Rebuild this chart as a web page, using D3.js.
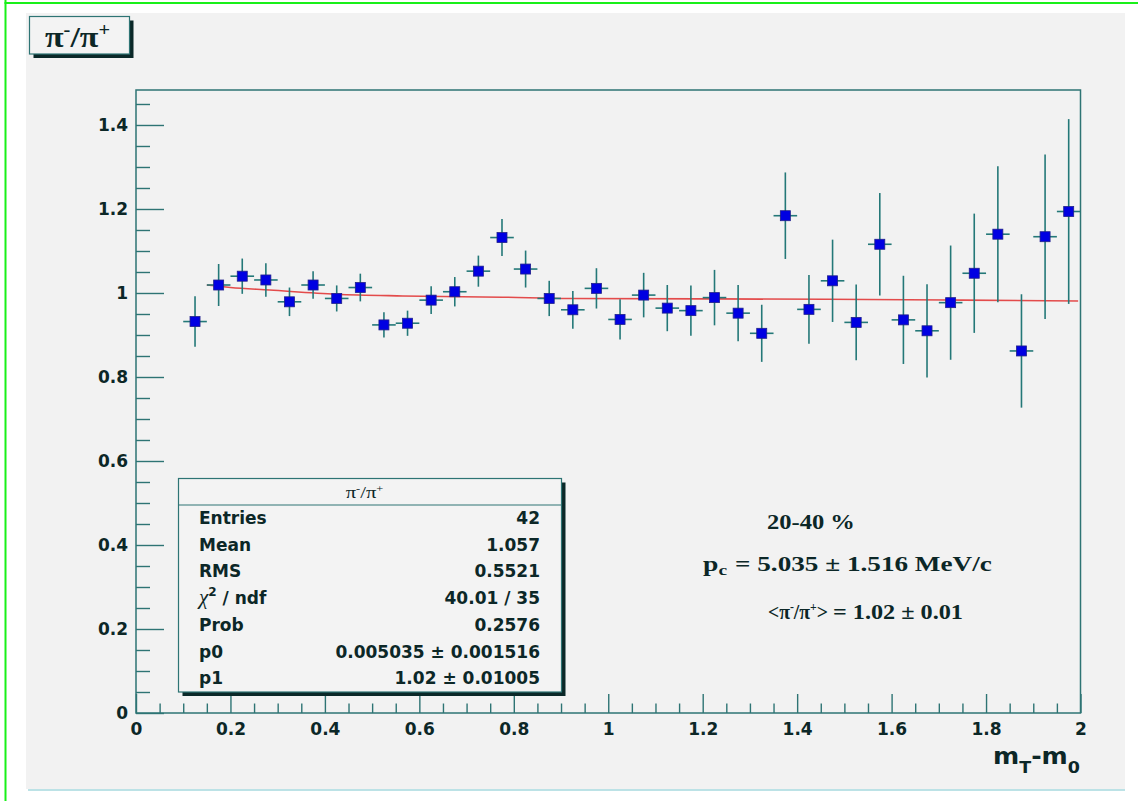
<!DOCTYPE html>
<html><head><meta charset="utf-8">
<script src="https://cdn.jsdelivr.net/npm/d3@7"></script>
<style>body{margin:0;background:#fff}svg{display:block}</style>
</head><body>
<svg id="c" width="1138" height="801"></svg>
<script>
// ---- data ----
const binCenters = [0.125,0.175,0.225,0.275,0.325,0.375,0.425,0.475,0.525,0.575,0.625,0.675,0.725,0.775,0.825,0.875,0.925,0.975,1.025,1.075,1.125,1.175,1.225,1.275,1.325,1.375,1.425,1.475,1.525,1.575,1.625,1.675,1.725,1.775,1.825,1.875,1.925,1.975];
const ratio = [0.932,1.019,1.040,1.031,0.979,1.019,0.987,1.013,0.924,0.928,0.983,1.003,1.052,1.132,1.057,0.987,0.960,1.011,0.937,0.995,0.964,0.958,0.989,0.952,0.904,1.184,0.961,1.029,0.930,1.116,0.936,0.910,0.977,1.047,1.140,0.862,1.134,1.194];
const ratioErr = [0.060,0.050,0.042,0.040,0.034,0.033,0.031,0.033,0.030,0.030,0.033,0.035,0.037,0.044,0.044,0.042,0.045,0.048,0.048,0.053,0.055,0.060,0.066,0.067,0.068,0.103,0.082,0.098,0.090,0.122,0.105,0.111,0.136,0.142,0.162,0.135,0.196,0.220];
const binHalfWidth = 0.025;
const fitX = [0.15,0.2,0.283,0.424,0.565,0.777,0.918,1.2,1.462,1.75,1.995];
const fitY = [1.019,1.013,1.007,0.997,0.993,0.990,0.987,0.986,0.985,0.983,0.981];
const xMajor = [0,0.2,0.4,0.6,0.8,1,1.2,1.4,1.6,1.8,2];
const xTickLabels = ["0","0.2","0.4","0.6","0.8","1","1.2","1.4","1.6","1.8","2"];
const yMajor = [0,0.2,0.4,0.6,0.8,1,1.2,1.4];
const yTickLabels = ["0","0.2","0.4","0.6","0.8","1","1.2","1.4"];
const statsLabels = ["Entries","Mean","RMS","CHI","Prob","p0","p1"];
const statsValues = ["42","1.057","0.5521","40.01 / 35","0.2576","0.005035 \u00b1 0.001516","1.02 \u00b1 0.01005"];
const centralityText = "20-40 %";
const pcText = "= 5.035 \u00b1 1.516 MeV/c";
const meanRatioText = "= 1.02 \u00b1 0.01";

// ---- styles ----
const lineCol = "#2e7474", textCol = "#0c2727", sans = "DejaVu Sans", serif = "Liberation Serif";
const svg = d3.select("#c");

// page background + borders
svg.append("rect").attr("x",26).attr("y",13).attr("width",1099).attr("height",776).attr("fill","#f2f2f2");
svg.append("rect").attr("x",4.5).attr("y",0).attr("width",2).attr("height",801).attr("fill","#19f019");
svg.append("rect").attr("x",4.5).attr("y",2).attr("width",1134).attr("height",2).attr("fill","#19f019");
svg.append("line").attr("x1",28).attr("x2",1125).attr("y1",790).attr("y2",790).attr("stroke","#a6d8de").attr("stroke-width",1.5);

// ---- scales ----
const x = d3.scaleLinear().domain([0,2]).range([136,1080.5]);
const y = d3.scaleLinear().domain([0,1.4833]).range([713,90]);

// minor tick positions
const xMinor = d3.range(0,2.0001,0.05).filter(v => Math.abs(v/0.2 - Math.round(v/0.2)) > 1e-6);
const yMinor = d3.range(0,1.4801,0.05).filter(v => Math.abs(v/0.2 - Math.round(v/0.2)) > 1e-6);

function styleAxis(g){
  g.select(".domain").remove();
  g.selectAll("line").attr("stroke",lineCol).attr("stroke-width",1.4);
  g.selectAll("text").attr("fill",textCol).attr("font-family",sans).attr("font-weight","bold").attr("font-size",17);
}
svg.append("g").attr("transform","translate(0,713)")
  .call(d3.axisBottom(x).tickValues(xMinor).tickSize(-9.5).tickFormat(""))
  .call(styleAxis);
svg.append("g").attr("transform","translate(0,713)")
  .call(d3.axisBottom(x).tickValues(xMajor).tickSize(-19).tickPadding(10).tickFormat((d,i)=>xTickLabels[i]))
  .call(styleAxis);
svg.append("g").attr("transform","translate(136,0)")
  .call(d3.axisLeft(y).tickValues(yMinor).tickSize(-14).tickFormat(""))
  .call(styleAxis);
svg.append("g").attr("transform","translate(136,0)")
  .call(d3.axisLeft(y).tickValues(yMajor).tickSize(-28).tickPadding(8).tickFormat((d,i)=>yTickLabels[i]))
  .call(styleAxis);

// frame
svg.append("rect").attr("x",x(0)).attr("y",y(1.4833)).attr("width",x(2)-x(0)).attr("height",y(0)-y(1.4833))
  .attr("fill","none").attr("stroke",lineCol).attr("stroke-width",1.5);

// ---- fit curve ----
svg.append("path").datum(fitX.map((v,i)=>[v,fitY[i]]))
  .attr("d", d3.line().x(d=>x(d[0])).y(d=>y(d[1])).curve(d3.curveMonotoneX))
  .attr("fill","none").attr("stroke","#e34b4b").attr("stroke-width",1.6);

// ---- error bars + markers ----
const pts = binCenters.map((c,i)=>({c, v:ratio[i], e:ratioErr[i]}));
const eb = svg.append("g").attr("stroke","#247878").attr("stroke-width",1.6);
eb.selectAll(".v").data(pts).join("line")
  .attr("x1",d=>x(d.c)).attr("x2",d=>x(d.c)).attr("y1",d=>y(d.v-d.e)).attr("y2",d=>y(d.v+d.e));
eb.selectAll(".h").data(pts).join("line")
  .attr("x1",d=>x(d.c-binHalfWidth)).attr("x2",d=>x(d.c+binHalfWidth)).attr("y1",d=>y(d.v)).attr("y2",d=>y(d.v));
const ms = 10;
svg.append("g").selectAll("rect").data(pts).join("rect")
  .attr("x",d=>x(d.c)-ms/2).attr("y",d=>y(d.v)-ms/2).attr("width",ms).attr("height",ms)
  .attr("fill","#0000e2").attr("stroke","#20208a").attr("stroke-width",0.8);

// ---- helper: scale text horizontally to a target width ----
function fit(t, left, base, w){
  const bb = t.node().getBBox();
  const s = w / bb.width;
  t.attr("transform",`translate(${left - bb.x*s},${base}) scale(${s},1)`);
}
function piRatio(t, size, supDy, lt, gt){
  if(lt) t.append("tspan").text("<");
  t.append("tspan").text("\u03c0");
  t.append("tspan").attr("font-size",size*0.6).attr("dy",-supDy).text("-");
  t.append("tspan").attr("dy",supDy).text("/\u03c0");
  t.append("tspan").attr("font-size",size*0.6).attr("dy",-supDy).text("+");
  t.append("tspan").attr("dy",supDy).text(gt ? ">" : "");
}
function serifText(size, bold){
  return svg.append("text").attr("font-family",serif).attr("font-weight",bold?"bold":"normal").attr("font-size",size).attr("fill",textCol);
}

// ---- title box ----
svg.append("rect").attr("x",33.5).attr("y",20.5).attr("width",100).attr("height",37.5).attr("fill","#0a2828");
svg.append("rect").attr("x",29.5).attr("y",16.5).attr("width",100).attr("height",37.5).attr("fill","#f3f3f3").attr("stroke",lineCol).attr("stroke-width",1.2);
{
  const t = serifText(30,true);
  piRatio(t,30,11);
  fit(t,45,46.5,65);
}

// ---- stats box ----
const sb = {x:178.5, y:478.5, w:383, h:213.5};
svg.append("rect").attr("x",sb.x+4).attr("y",sb.y+4).attr("width",sb.w).attr("height",sb.h).attr("fill","#0a2828");
svg.append("rect").attr("x",sb.x).attr("y",sb.y).attr("width",sb.w).attr("height",sb.h).attr("fill","#f3f3f3").attr("stroke",lineCol).attr("stroke-width",1.2);
svg.append("line").attr("x1",sb.x).attr("x2",sb.x+sb.w).attr("y1",505).attr("y2",505).attr("stroke",lineCol).attr("stroke-width",1.2);
{
  const t = serifText(16,false);
  piRatio(t,16,6);
  fit(t,345.7,498,37.6);
}
statsLabels.forEach((lab,i)=>{
  const base = 524 + i*26.7;
  const t = svg.append("text").attr("x",199).attr("y",base).attr("font-family",sans).attr("font-weight","bold").attr("font-size",17).attr("fill",textCol);
  if(lab==="CHI"){
    t.append("tspan").attr("font-family",serif).attr("font-weight","normal").attr("font-style","italic").attr("font-size",21).text("\u03c7");
    t.append("tspan").attr("font-size",12).attr("dy",-8).text("2");
    t.append("tspan").attr("dy",8).text(" / ndf");
  } else t.text(lab);
  svg.append("text").attr("x",540).attr("y",base).attr("text-anchor","end").attr("font-family",sans).attr("font-weight","bold").attr("font-size",17).attr("fill",textCol).text(statsValues[i]);
});

// ---- annotations ----
{
  const t1 = serifText(20,true).text(centralityText);
  fit(t1,767,529.3,88);
  const t2a = serifText(20,true);
  t2a.append("tspan").text("p");
  t2a.append("tspan").attr("font-size",14).attr("dy",4).text("c");
  fit(t2a,703,570.5,24);
  const t2b = serifText(20,true).text(pcText);
  fit(t2b,735,570.5,257);
  const t3a = serifText(20,true);
  piRatio(t3a,20,8,true,true);
  fit(t3a,768,619,60);
  const t3b = serifText(20,true).text(meanRatioText);
  fit(t3b,833,619,130);
}

// ---- x axis title ----
{
  const t = svg.append("text").attr("font-family",sans).attr("font-weight","bold").attr("font-size",23).attr("fill",textCol);
  t.append("tspan").text("m");
  t.append("tspan").attr("font-size",16).attr("dy",9).text("T");
  t.append("tspan").attr("dy",-9).text("-m");
  t.append("tspan").attr("font-size",16).attr("dy",9).text("0");
  fit(t,993,764,87);
}
</script>
</body></html>
